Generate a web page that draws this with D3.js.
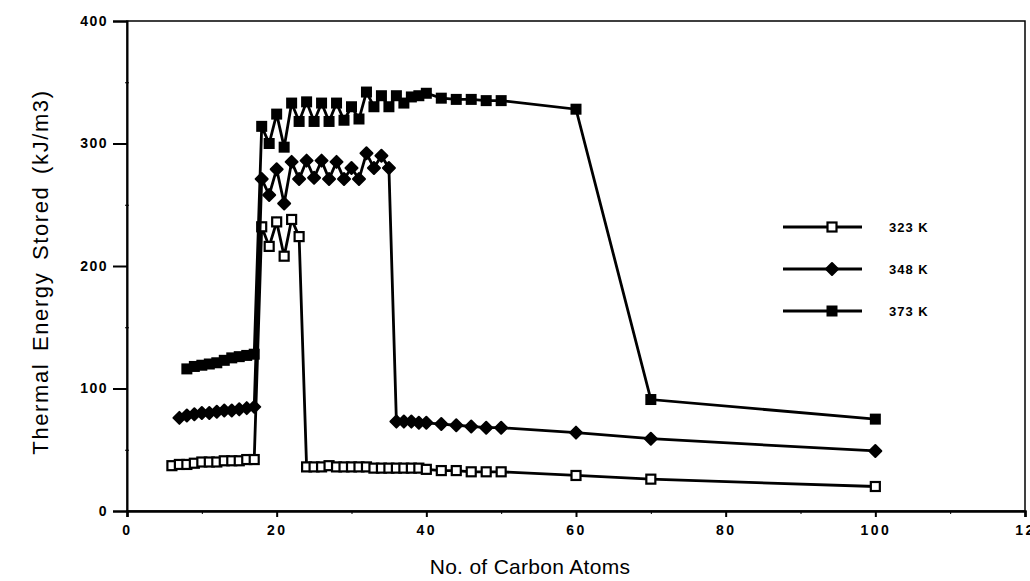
<!DOCTYPE html>
<html><head><meta charset="utf-8">
<script src="https://cdn.jsdelivr.net/npm/d3@7"></script>
<style>
body{margin:0;background:#fff;}
svg{display:block;font-family:"Liberation Sans",Arial,sans-serif;}
</style></head>
<body><svg id="c" width="1030" height="581"></svg>
<script>
// ---- data ----
const xTicks = [0, 20, 40, 60, 80, 100, 120];
const xTickLabels = ["0", "20", "40", "60", "80", "100", "12"];
const yTicks = [0, 100, 200, 300, 400];
const seriesNames = ["323 K", "348 K", "373 K"];

const c323 = [6,7,8,9,10,11,12,13,14,15,16,17,18,19,20,21,22,23,24,25,26,27,28,29,30,31,32,33,34,35,36,37,38,39,40,42,44,46,48,50,60,70,100];
const v323 = [37,38,38,39,40,40,40,41,41,41,42,42,232,216,236,208,238,224,36,36,36,37,36,36,36,36,36,35,35,35,35,35,35,35,34,33,33,32,32,32,29,26,20];

const c348 = [7,8,9,10,11,12,13,14,15,16,17,18,19,20,21,22,23,24,25,26,27,28,29,30,31,32,33,34,35,36,37,38,39,40,42,44,46,48,50,60,70,100];
const v348 = [76,78,79,80,80,81,82,82,83,84,85,271,258,279,251,285,271,286,272,286,271,285,271,280,271,292,280,290,280,73,73,73,72,72,71,70,69,68,68,64,59,49];

const c373 = [8,9,10,11,12,13,14,15,16,17,18,19,20,21,22,23,24,25,26,27,28,29,30,31,32,33,34,35,36,37,38,39,40,42,44,46,48,50,60,70,100];
const v373 = [116,118,119,120,121,123,125,126,127,128,314,300,324,297,333,318,334,318,333,318,333,319,330,320,342,330,339,330,339,333,338,339,341,337,336,336,335,335,328,91,75];

// ---- layout ----
const svg = d3.select("#c");
const x = d3.scaleLinear().domain([0,120]).range([127,1025]);
const y = d3.scaleLinear().domain([0,400]).range([511,21]);

const series = [
  {name: seriesNames[0], c: c323, v: v323, shape: "open"},
  {name: seriesNames[1], c: c348, v: v348, shape: "diamond"},
  {name: seriesNames[2], c: c373, v: v373, shape: "square"}
];

// frame
svg.append("rect").attr("x", x(0)).attr("y", y(400))
  .attr("width", x(120)-x(0)).attr("height", y(0)-y(400))
  .attr("fill","none").attr("stroke","#000").attr("stroke-width",1.5);

// axes
const xAxis = d3.axisBottom(x).tickValues(xTicks).tickSize(6)
  .tickFormat((d,i)=>xTickLabels[i]);
const gx = svg.append("g").attr("transform",`translate(0,${y(0)})`).call(xAxis);
gx.select(".domain").attr("stroke-width",2.5);
gx.selectAll(".tick line").attr("stroke-width",2);
gx.selectAll(".tick text").attr("font-size",14).attr("font-weight","bold")
  .attr("letter-spacing","2.5px").attr("dy","1.05em")
  .attr("font-family","'Liberation Sans',Arial,sans-serif");
// minor x ticks
svg.append("g").attr("transform",`translate(0,${y(0)})`)
  .call(d3.axisBottom(x).tickValues([10,30,50,70,90,110]).tickSize(3).tickFormat(""))
  .call(g=>g.select(".domain").remove());

const yAxis = d3.axisLeft(y).tickValues(yTicks).tickSize(14);
const gy = svg.append("g").attr("transform",`translate(${x(0)},0)`).call(yAxis);
gy.select(".domain").attr("stroke-width",2);
gy.selectAll(".tick line").attr("stroke-width",2);
gy.selectAll(".tick text").attr("font-size",14).attr("font-weight","bold")
  .attr("letter-spacing","1.5px").attr("x",-19)
  .attr("font-family","'Liberation Sans',Arial,sans-serif");
svg.append("g").attr("transform",`translate(${x(0)+2},0)`)
  .call(d3.axisLeft(y).tickValues([50,150,250,350]).tickSize(4).tickFormat(""))
  .call(g=>g.select(".domain").remove());

// titles
svg.append("text").attr("x", 530).attr("y", 574).attr("text-anchor","middle")
  .attr("font-size",21).attr("letter-spacing","0.3px").text("No. of Carbon Atoms");
svg.append("text").attr("transform","translate(48,272) rotate(-90)")
  .attr("text-anchor","middle").attr("font-size",22).attr("letter-spacing","1.6px")
  .attr("word-spacing","4px")
  .text("Thermal Energy Stored (kJ/m3)");

// lines and markers
const line = d3.line().x(d=>x(d[0])).y(d=>y(d[1]));
function marker(g, shape, cx, cy){
  if(shape==="open"){
    g.append("rect").attr("x",cx-4.5).attr("y",cy-4.5).attr("width",9).attr("height",9)
      .attr("fill","#fff").attr("stroke","#000").attr("stroke-width",2.2);
  } else if(shape==="diamond"){
    g.append("path").attr("d",`M${cx},${cy-6}L${cx+6},${cy}L${cx},${cy+6}L${cx-6},${cy}Z`)
      .attr("fill","#000").attr("stroke","#000").attr("stroke-width",2).attr("stroke-linejoin","round");
  } else {
    g.append("rect").attr("x",cx-5.5).attr("y",cy-5.5).attr("width",11).attr("height",11)
      .attr("fill","#000");
  }
}
series.forEach(s=>{
  const pts = s.c.map((c,i)=>[c, s.v[i]]);
  const g = svg.append("g");
  g.append("path").datum(pts).attr("d",line).attr("fill","none")
    .attr("stroke","#000").attr("stroke-width",2.8);
  pts.forEach(p=>marker(g, s.shape, x(p[0]), y(p[1])));
});

// legend
const legY = [227, 269, 311];
series.forEach((s,i)=>{
  const g = svg.append("g");
  g.append("line").attr("x1",783).attr("x2",862).attr("y1",legY[i]).attr("y2",legY[i])
    .attr("stroke","#000").attr("stroke-width",2.8);
  marker(g, s.shape, 832, legY[i]);
  g.append("text").attr("x",889).attr("y",legY[i]+5).attr("font-size",13)
    .attr("font-weight","bold").attr("letter-spacing","1px").text(s.name);
});
</script></body></html>
